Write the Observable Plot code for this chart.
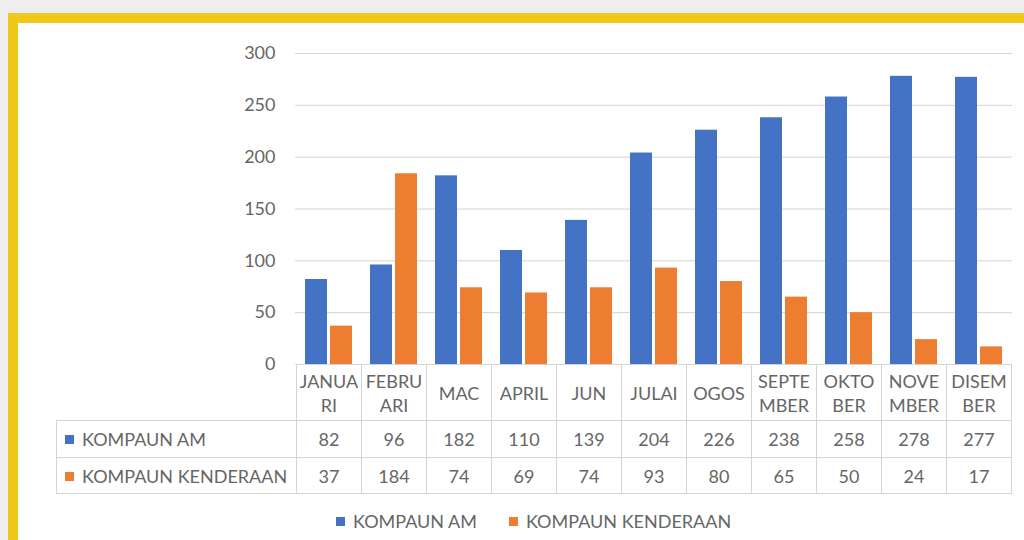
<!DOCTYPE html>
<html>
<head>
<meta charset="utf-8">
<script src="https://cdn.jsdelivr.net/npm/d3@7"></script>
<script src="https://cdn.jsdelivr.net/npm/@observablehq/plot@0.6"></script>
<style>
  html, body { margin:0; padding:0; }
  body { width:1024px; height:540px; overflow:hidden; background:#eeeeee; position:relative; font-family: Lato, "Open Sans", sans-serif; color:#666666; }
  #frame { position:absolute; left:8px; top:13px; width:1040px; height:560px; border:10px solid #f0c81a; background:#ffffff; box-sizing:border-box; }
  #chart { position:absolute; left:0; top:0; }
  #tbl { position:absolute; border-collapse:collapse; table-layout:fixed; font-size:18px; color:#666666; }
  #tbl td { border:1px solid #d4d4d4; text-align:center; padding:0; }
  #tbl td.lab { text-align:left; padding-left:8px; white-space:nowrap; }
  #tbl td.empty { border:none; border-right:1px solid #d4d4d4; }
  #tbl tr.head td { height:55px; line-height:24px; white-space:pre-line; }
  #tbl tr.r1 td { height:36px; }
  #tbl tr.r2 td { height:35px; }
  .sw { display:inline-block; width:9px; height:9px; margin-right:8px; vertical-align:2px; }
  #legend { position:absolute; top:510px; display:flex; gap:32px; font-size:18px; color:#666666; }
  #legend span.item { display:flex; align-items:center; }
</style>
</head>
<body>
<div id="frame"></div>
<div id="chart"></div>
<script>
const months = ["JANUA\nRI","FEBRU\nARI","MAC","APRIL","JUN","JULAI","OGOS","SEPTE\nMBER","OKTO\nBER","NOVE\nMBER","DISEM\nBER"];
const kompaunAm = [82, 96, 182, 110, 139, 204, 226, 238, 258, 278, 277];
const kompaunKenderaan = [37, 184, 74, 69, 74, 93, 80, 65, 50, 24, 17];
const seriesNames = ["KOMPAUN AM", "KOMPAUN KENDERAAN"];
const seriesColors = ["#4472c4", "#ed7d31"];
const yTicks = [0, 50, 100, 150, 200, 250, 300];

const data = months.map((m, i) => ({month: m, am: kompaunAm[i], kend: kompaunKenderaan[i]}));

const chart = Plot.plot({
  width: 1024,
  height: 540,
  marginLeft: 295,
  marginRight: 12,
  marginTop: 53,
  marginBottom: 176,
  style: {background: "transparent", fontFamily: "Lato, 'Open Sans', sans-serif", fontSize: "18px", color: "#666666"},
  x: {domain: months, padding: 0, axis: null},
  y: {domain: [0, 300], axis: null},
  marks: [
    Plot.gridY(yTicks, {stroke: "#d4d4d4", strokeOpacity: 1}),
    Plot.axisY({ticks: yTicks, tickSize: 0, tickPadding: 20, label: null, fill: "#666666", fontSize: 18}),
    Plot.barY(data, {x: "month", y: "am", fill: seriesColors[0], insetLeft: 9, insetRight: 34}),
    Plot.barY(data, {x: "month", y: "kend", fill: seriesColors[1], insetLeft: 34, insetRight: 9})
  ]
});
document.getElementById("chart").appendChild(chart);

// Data table aligned to the x scale
const xs = chart.scale("x");
const ys = chart.scale("y");
const bw = xs.bandwidth;
const left0 = xs.apply(months[0]);
const labW = 240;
const tbl = document.createElement("table");
tbl.id = "tbl";
tbl.style.left = (left0 - labW) + "px";
tbl.style.top = Math.round(ys.apply(0)) + "px";
tbl.style.width = (labW + bw * months.length) + "px";
let html = "<colgroup><col style='width:" + labW + "px'>" + months.map(() => "<col style='width:" + bw + "px'>").join("") + "</colgroup>";
html += "<tr class='head'><td class='empty'></td>" + months.map(m => "<td>" + m + "</td>").join("") + "</tr>";
const rows = [kompaunAm, kompaunKenderaan];
rows.forEach((vals, r) => {
  html += "<tr class='r" + (r + 1) + "'><td class='lab'><span class='sw' style='background:" + seriesColors[r] + "'></span>" + seriesNames[r] + "</td>" +
    vals.map(v => "<td>" + v + "</td>").join("") + "</tr>";
});
tbl.innerHTML = html;
document.body.appendChild(tbl);

// Legend
const lg = document.createElement("div");
lg.id = "legend";
lg.innerHTML = seriesNames.map((n, i) => "<span class='item'><span class='sw' style='background:" + seriesColors[i] + "'></span>" + n + "</span>").join("");
document.body.appendChild(lg);
const lgW = lg.getBoundingClientRect().width;
lg.style.left = Math.round((left0 - labW + left0 + bw * months.length) / 2 - lgW / 2) + "px";
</script>
</body>
</html>
